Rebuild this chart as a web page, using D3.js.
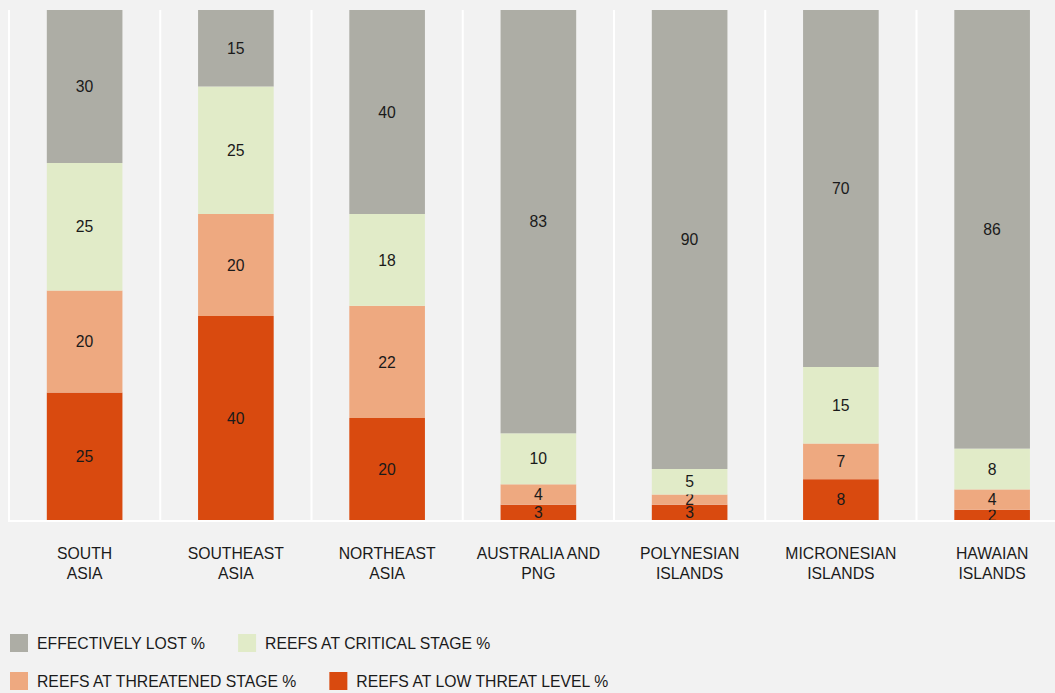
<!DOCTYPE html>
<html>
<head>
<meta charset="utf-8">
<script src="https://cdn.jsdelivr.net/npm/d3@7"></script>
<style>
  body { margin: 0; background: #f2f2f2; }
  svg { display: block; font-family: "Liberation Sans", Arial, Helvetica, sans-serif; }
</style>
</head>
<body>
<svg id="chart"></svg>
<script>
var width = 1055, height = 693;
var margin = {top: 10, left: 9, bottom: 173};
var fontSize = 15.75;

// data
var regions = [["SOUTH", "ASIA"], ["SOUTHEAST", "ASIA"], ["NORTHEAST", "ASIA"], ["AUSTRALIA AND", "PNG"],
  ["POLYNESIAN", "ISLANDS"], ["MICRONESIAN", "ISLANDS"], ["HAWAIAN", "ISLANDS"]];
var lowThreat  = [25, 40, 20, 3, 3, 8, 2];
var threatened = [20, 20, 22, 4, 2, 7, 4];
var critical   = [25, 25, 18, 10, 5, 15, 8];
var lost       = [30, 15, 40, 83, 90, 70, 86];
var seriesNames = ["EFFECTIVELY LOST %", "REEFS AT CRITICAL STAGE %", "REEFS AT THREATENED STAGE %", "REEFS AT LOW THREAT LEVEL %"];
var colors = ["#adada5", "#e1ebc8", "#eea980", "#d94a0f"];

var keys = ["low", "threatened", "critical", "lost"];
var data = regions.map(function(r, i){
  return {name: r.join(" "), lines: r, low: lowThreat[i], threatened: threatened[i], critical: critical[i], lost: lost[i]};
});
var colorOf = {low: colors[3], threatened: colors[2], critical: colors[1], lost: colors[0]};

var svg = d3.select("#chart").attr("width", width).attr("height", height);

var x = d3.scaleBand()
  .domain(data.map(d => d.name))
  .range([margin.left, margin.left + 151.25 * 7])
  .padding(0);
var barW = x.bandwidth() * 0.5;

var y = d3.scaleLinear()
  .domain([0, 100])
  .range([height - margin.bottom, margin.top]);

// white grid lines between bands
svg.append("g")
  .selectAll("line")
  .data(data)
  .join("line")
  .attr("x1", d => x(d.name)).attr("x2", d => x(d.name))
  .attr("y1", y(100)).attr("y2", y(0))
  .attr("stroke", "#fff").attr("stroke-width", 2);

var stack = d3.stack().keys(keys)(data);

var layers = svg.append("g")
  .selectAll("g")
  .data(stack)
  .join("g")
  .attr("fill", d => colorOf[d.key]);

layers.selectAll("rect")
  .data(d => d)
  .join("rect")
  .attr("x", d => x(d.data.name) + (x.bandwidth() - barW) / 2)
  .attr("width", barW)
  .attr("y", d => y(d[1]))
  .attr("height", d => y(d[0]) - y(d[1]));

layers.selectAll("text")
  .data(d => d)
  .join("text")
  .attr("x", d => x(d.data.name) + x.bandwidth() / 2)
  .attr("y", d => (y(d[0]) + y(d[1])) / 2)
  .attr("dy", "0.36em")
  .attr("text-anchor", "middle")
  .attr("font-size", fontSize)
  .attr("fill", "#1a1a1a")
  .text(d => d[1] - d[0]);

// baseline
svg.append("line")
  .attr("x1", margin.left - 1).attr("x2", width)
  .attr("y1", y(0) + 1).attr("y2", y(0) + 1)
  .attr("stroke", "#fff").attr("stroke-width", 2);

// category labels
var cat = svg.append("g")
  .selectAll("text")
  .data(data)
  .join("text")
  .attr("text-anchor", "middle")
  .attr("font-size", fontSize)
  .attr("fill", "#1a1a1a");
cat.selectAll("tspan")
  .data(d => d.lines.map(l => ({l: l, name: d.name})))
  .join("tspan")
  .attr("x", d => x(d.name) + x.bandwidth() / 2)
  .attr("y", (d, i) => 559 + i * 20)
  .text(d => d.l);

// legend
var rows = [[0, 1], [2, 3]];
rows.forEach(function(row, ri){
  var lx = 10;
  var ly = 634 + ri * 38;
  row.forEach(function(si){
    svg.append("rect")
      .attr("x", lx).attr("y", ly)
      .attr("width", 18).attr("height", 18)
      .attr("fill", colors[si]);
    var t = svg.append("text")
      .attr("x", lx + 27).attr("y", ly + 9)
      .attr("dy", "0.36em")
      .attr("font-size", fontSize)
      .attr("fill", "#1a1a1a")
      .text(seriesNames[si]);
    lx += 27 + t.node().getComputedTextLength() + 33;
  });
});
</script>
</body>
</html>
